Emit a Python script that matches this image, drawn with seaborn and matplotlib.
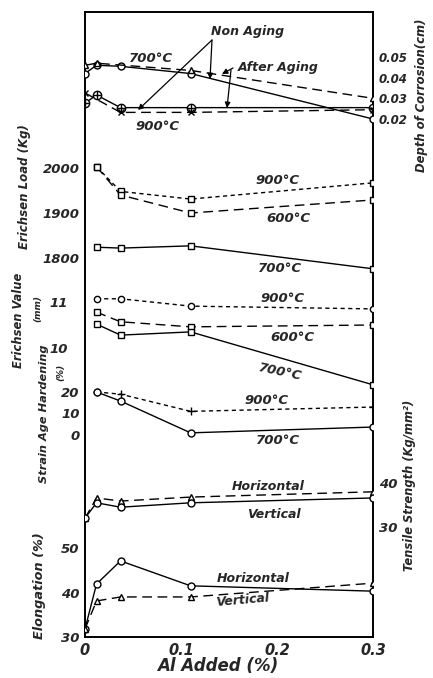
import matplotlib
matplotlib.use("Agg")
import matplotlib.pyplot as plt
import seaborn as sns

# ── data (Al added, %) ──────────────────────────────────────────
AL = [0, 0.012, 0.037, 0.11, 0.3]
AL4 = [0.012, 0.037, 0.11, 0.3]

# depth of corrosion (cm)
corr_700_non = [0.042, 0.046, 0.0455, 0.042, 0.020]
al_700_aged = [0, 0.012, 0.11, 0.3]
corr_700_aged = [0.046, 0.047, 0.0435, 0.030]
corr_900_non = [0.0277, 0.0316, 0.0255, 0.0255, 0.0255]
al_900_aged = [0, 0.037, 0.11, 0.3]
corr_900_aged = [0.0326, 0.0232, 0.0232, 0.0245]

# Erichsen load (Kg)
load_900 = [2003, 1948, 1931, 1967]
load_600 = [2003, 1940, 1900, 1929]
load_700 = [1824, 1822, 1827, 1776]

# Erichsen value (mm)
val_900 = [11.07, 11.07, 10.91, 10.85]
val_600 = [10.78, 10.57, 10.46, 10.50]
val_700 = [10.52, 10.28, 10.35, 9.20]

# strain age hardening (%)
sah_900 = [20, 19, 11, 13]
sah_700 = [20, 15.8, 1, 3.7]

# tensile strength (Kg/mm2)
ts_horiz = [32.0, 36.6, 35.9, 36.8, 38.0]
ts_vert = [32.0, 35.5, 34.5, 35.5, 36.6]

# elongation (%)
el_horiz = [31.8, 41.9, 47.1, 41.5, 40.3]
el_vert = [31.8, 38.1, 39.0, 39.0, 42.1]

# ── layout (pixels, origin top-left) ────────────────────────────
W, H = 433, 678
X0, X1, Y0, Y1 = 85, 373, 12, 637

sns.set_style("white")
plt.rcParams["font.family"] = ["DejaVu Sans"]
plt.rcParams["font.style"] = "italic"
plt.rcParams["font.weight"] = "bold"

SOLID = "-"
LONG = (0, (7, 4))
SHORT = (0, (3, 2.5))

fig = plt.figure(figsize=(W / 100, H / 100), dpi=100)
RECT = [X0 / W, 1 - Y1 / H, (X1 - X0) / W, (Y1 - Y0) / H]

base = fig.add_axes(RECT)
base.set_xlim(0, 0.3)
base.set_ylim(0, 1)
base.set_yticks([])
base.set_xticks([0, 0.1, 0.2, 0.3])
base.set_xticklabels(["0", "0.1", "0.2", "0.3"])
base.tick_params(axis="x", length=0, pad=4, labelsize=10.5)
for sp in base.spines.values():
    sp.set_linewidth(1.4)
    sp.set_color("black")


def panel(v1, p1, v2, p2, ticks, side="left", pad=4, size=9.5):
    s = (v2 - v1) / (p2 - p1)
    ax = fig.add_axes(RECT, facecolor="none")
    ax.set_xlim(0, 0.3)
    ax.set_ylim(v1 + s * (Y1 - p1), v1 + s * (Y0 - p1))
    for sp in ax.spines.values():
        sp.set_visible(False)
    ax.set_xticks([])
    ax.set_yticks(ticks)
    if side == "right":
        ax.yaxis.tick_right()
    ax.tick_params(axis="y", length=0, pad=pad, labelsize=size)
    return ax


def draw(ax, x, y, ls, marker, ms=5):
    sns.lineplot(x=x, y=y, ax=ax, color="black", linestyle=ls, linewidth=1.0,
                 marker=marker, markersize=ms, markerfacecolor="white",
                 markeredgecolor="black", markeredgewidth=1.0, sort=False,
                 errorbar=None)
    ax.set_xlabel("")
    ax.set_ylabel("")


def txt(x, y, s, size=9.5, rot=0, **kw):
    fig.text(x / W, 1 - y / H, s, ha="center", va="center", fontsize=size,
             rotation=rot, **kw)


def arrow(x0, y0, x1, y1):
    fig.add_artist(matplotlib.patches.FancyArrowPatch(
        (x0 / W, 1 - y0 / H), (x1 / W, 1 - y1 / H),
        transform=fig.transFigure, arrowstyle="-|>",
        mutation_scale=8, color="black", lw=0.9, shrinkA=0, shrinkB=0))


# depth of corrosion
ax_c = panel(0.05, 57, 0.02, 119, [0.02, 0.03, 0.04, 0.05], side="right", size=8.5)
ax_c.set_yticklabels(["0.02", "0.03", "0.04", "0.05"])
draw(ax_c, AL, corr_700_non, SOLID, "o")
draw(ax_c, al_700_aged, corr_700_aged, LONG, "^")
draw(ax_c, AL, corr_900_non, SOLID, "o", ms=6)
sns.scatterplot(x=AL, y=corr_900_non, ax=ax_c, marker="+", color="black",
                s=30, linewidth=1.0, zorder=5)
draw(ax_c, al_900_aged, corr_900_aged, LONG, "x")

# Erichsen load
ax_l = panel(2000, 168, 1800, 258, [1800, 1900, 2000])
draw(ax_l, AL4, load_900, SHORT, "s", ms=4.5)
draw(ax_l, AL4, load_600, LONG, "s", ms=4.5)
draw(ax_l, AL4, load_700, SOLID, "s", ms=4.5)

# Erichsen value
ax_v = panel(11, 302, 10, 348, [10, 11], pad=12)
draw(ax_v, AL4, val_900, SHORT, "o", ms=4.5)
draw(ax_v, AL4, val_600, LONG, "s", ms=4.5)
draw(ax_v, AL4, val_700, SOLID, "s", ms=4.5)

# strain age hardening
ax_s = panel(20, 392, 0, 435, [0, 10, 20])
draw(ax_s, AL4, sah_900, SHORT, "+", ms=6)
draw(ax_s, AL4, sah_700, SOLID, "o")

# tensile strength
ax_t = panel(40, 483, 30, 527, [30, 40], side="right")
draw(ax_t, AL, ts_horiz, LONG, "^")
draw(ax_t, AL, ts_vert, SOLID, "o")

# elongation
ax_e = panel(50, 548, 30, 637, [30, 40, 50])
draw(ax_e, AL, el_horiz, SOLID, "o")
draw(ax_e, AL, el_vert, LONG, "^")

# curve labels
txt(151, 59, "700°C")
txt(158, 126, "900°C")
txt(248, 31, "Non Aging", size=9)
txt(278, 68, "After Aging", size=9)
txt(278, 181, "900°C")
txt(288, 218, "600°C")
txt(280, 269, "700°C")
txt(283, 298, "900°C")
txt(292, 337, "600°C")
txt(280, 372, "700°C", rot=-12)
txt(267, 401, "900°C")
txt(278, 440, "700°C")
txt(268, 486, "Horizontal", size=9)
txt(274, 514, "Vertical", size=9)
txt(253, 579, "Horizontal", size=9)
txt(242, 600, "Vertical", size=9, rot=5)

# pointers in the corrosion panel
arrow(212, 40, 138, 110)
arrow(212, 40, 210, 79)
arrow(233, 68, 222, 74)
arrow(231, 70, 227, 108)

# axis titles
txt(25, 187, "Erichsen Load (Kg)", size=8.5, rot=90)
txt(19, 320, "Erichsen Value", size=8.3, rot=90)
txt(38, 308, "(mm)", size=6.5, rot=90)
txt(44, 414, "Strain Age Hardening", size=8.2, rot=90)
txt(61, 372, "(%)", size=6.5, rot=90)
txt(40, 586, "Elongation (%)", size=9.3, rot=90)
txt(422, 95, "Depth of Corrosion(cm)", size=8.4, rot=90)
txt(410, 485, "Tensile Strength (Kg/mm²)", size=8.3, rot=90)
txt(218, 666, "Al Added (%)", size=12)

fig.savefig("out.png", dpi=100)
